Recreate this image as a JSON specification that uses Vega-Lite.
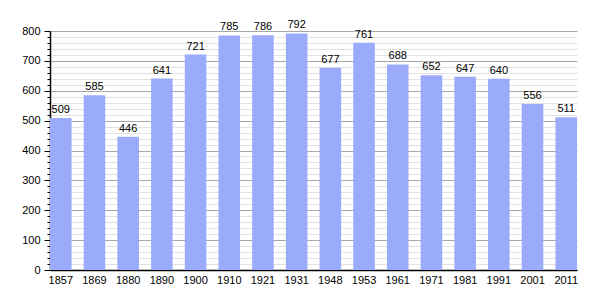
{
  "$schema": "https://vega.github.io/schema/vega-lite/v6.json",
  "width": 527,
  "height": 239,
  "autosize": "none",
  "padding": {"left": 50, "top": 31, "right": 28, "bottom": 30},
  "background": "white",
  "config": {"view": {"stroke": null}, "font": "Liberation Sans"},
  "data": {"values": [
    {"year": "1857", "pop": 509}, {"year": "1869", "pop": 585}, {"year": "1880", "pop": 446},
    {"year": "1890", "pop": 641}, {"year": "1900", "pop": 721}, {"year": "1910", "pop": 785},
    {"year": "1921", "pop": 786}, {"year": "1931", "pop": 792}, {"year": "1948", "pop": 677},
    {"year": "1953", "pop": 761}, {"year": "1961", "pop": 688}, {"year": "1971", "pop": 652},
    {"year": "1981", "pop": 647}, {"year": "1991", "pop": 640}, {"year": "2001", "pop": 556},
    {"year": "2011", "pop": 511}
  ]},
  "encoding": {
    "x": {"field": "year", "type": "ordinal", "sort": null,
      "scale": {"paddingInner": 0.36, "paddingOuter": 0},
      "axis": {"title": null, "labelAngle": 0, "ticks": false, "domainColor": "black", "domainWidth": 1.5,
        "labelFontSize": 11, "labelColor": "black", "labelPadding": 4}},
    "y": {"field": "pop", "type": "quantitative",
      "scale": {"domain": [0, 800], "nice": false},
      "axis": {"title": null,
        "values": [0,20,40,60,80,100,120,140,160,180,200,220,240,260,280,300,320,340,360,380,400,420,440,460,480,500,520,540,560,580,600,620,640,660,680,700,720,740,760,780,800],
        "labelExpr": "datum.value % 100 === 0 ? datum.label : ''",
        "labelFontSize": 11, "labelColor": "black", "labelPadding": 4,
        "domainColor": "black", "domainWidth": 1.5,
        "tickColor": "black",
        "tickSize": {"condition": {"test": "datum.value % 100 === 0", "value": 6}, "value": 3},
        "grid": true,
        "gridColor": {"condition": {"test": "datum.value % 100 === 0", "value": "#a8a8a8"}, "value": "#e2e2e2"},
        "gridWidth": 1}}
  },
  "layer": [
    {"mark": {"type": "bar", "color": "#9aabfc"}},
    {"mark": {"type": "text", "baseline": "bottom", "dy": -3, "fontSize": 11, "color": "black"},
     "encoding": {"text": {"field": "pop", "type": "quantitative"}}}
  ]
}
